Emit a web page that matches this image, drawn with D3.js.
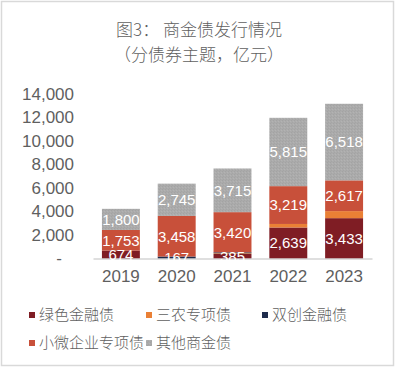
<!DOCTYPE html>
<html>
<head>
<meta charset="utf-8">
<script src="https://cdn.jsdelivr.net/npm/d3@7"></script>
<style>
  body { margin: 0; background: #fff; }
  svg { display: block; }
</style>
</head>
<body>
<svg id="chart" width="396" height="368"></svg>
<script>
// data (亿元)
var years = ["2019", "2020", "2021", "2022", "2023"];
var seriesNames = ["绿色金融债", "三农专项债", "双创金融债", "小微企业专项债", "其他商金债"];
var green = [674, 0, 385, 2639, 3433];
var sannong = [0, 0, 60, 300, 600];
var shuangchuang = [0, 167, 80, 0, 0];
var xiaowei = [1753, 3458, 3420, 3219, 2617];
var other = [1800, 2745, 3715, 5815, 6518];
var yTicks = [0, 2000, 4000, 6000, 8000, 10000, 12000, 14000];
var colors = ["#7f1d24", "#ea8035", "#1f2c4c", "#c8503a", "url(#grain)"];

var rows = years.map(function(y, i) {
  return { year: y, s0: green[i], s1: sannong[i], s2: shuangchuang[i], s3: xiaowei[i], s4: other[i] };
});
var keys = ["s0", "s1", "s2", "s3", "s4"];

var svg = d3.select("#chart");
var txt = "#5f5f5f";
var cjk = "'Noto Sans CJK SC', 'Noto Sans', sans-serif";
var lat = "'Liberation Sans', Arial, sans-serif";

// fine grey texture of the "other" bars
var pat = svg.append("defs").append("pattern").attr("id", "grain")
  .attr("width", 3).attr("height", 3).attr("patternUnits", "userSpaceOnUse");
pat.append("rect").attr("width", 3).attr("height", 3).attr("fill", "#ababab");
pat.append("rect").attr("x", 0).attr("y", 0).attr("width", 1).attr("height", 1).attr("fill", "#a3a3a3");
pat.append("rect").attr("x", 2).attr("y", 1).attr("width", 1).attr("height", 1).attr("fill", "#b3b3b3");
pat.append("rect").attr("x", 1).attr("y", 2).attr("width", 1).attr("height", 1).attr("fill", "#a5a5a5");

svg.append("rect").attr("x", 1.5).attr("y", 1.5).attr("width", 392).attr("height", 364)
  .attr("fill", "#fff").attr("stroke", "#d9d9d9").attr("stroke-width", 1.5);

// title
var title = svg.append("g").attr("font-family", cjk).attr("font-weight", 300).attr("font-size", 17)
  .attr("fill", txt).attr("text-anchor", "middle");
title.append("text").attr("x", 199).attr("y", 36).text("图3：  商金债发行情况");
title.append("text").attr("x", 199).attr("y", 61).text("（分债券主题，亿元）");

var x = d3.scaleBand().domain(years).range([93, 372]).paddingInner(0.32).paddingOuter(0.16);
var y = d3.scaleLinear().domain([0, 14000]).range([258.5, 94]);

var stacked = d3.stack().keys(keys)(rows);

var layers = svg.append("g").selectAll("g").data(stacked).enter().append("g")
  .attr("fill", function(d, i) { return colors[i]; });
layers.selectAll("rect").data(function(d) { return d; }).enter().append("rect")
  .attr("x", function(d) { return x(d.data.year); })
  .attr("width", x.bandwidth())
  .attr("y", function(d) { return y(d[1]); })
  .attr("height", function(d) { return y(d[0]) - y(d[1]); });

// x axis
var xAxis = svg.append("g").attr("transform", "translate(0,258.5)")
  .call(d3.axisBottom(x).tickSize(0).tickPadding(11));
xAxis.select(".domain").attr("stroke", "#bfbfbf").attr("stroke-width", 1.2);
xAxis.selectAll("text").attr("font-family", lat).attr("font-size", 17).attr("fill", txt);

// y axis
var fmt = d3.format(",");
var yAxis = svg.append("g").attr("transform", "translate(74,0)")
  .call(d3.axisLeft(y).tickValues(yTicks).tickSize(0).tickPadding(0)
    .tickFormat(function(d) { return d === 0 ? "-" : fmt(d); }));
yAxis.select(".domain").remove();
yAxis.selectAll("text").attr("font-family", lat).attr("font-size", 17).attr("fill", txt)
  .attr("dx", function(d) { return d === 0 ? -12 : 0; });

// value labels
var showLabel = function(k, v) {
  if (k === "s1") return false;
  if (k === "s2") return v > 150;
  return v > 0;
};
var lbl = svg.append("g").attr("font-family", "'Liberation Sans Narrow', " + lat)
  .attr("font-size", 15).attr("fill", "#fff").attr("text-anchor", "middle");
stacked.forEach(function(layer) {
  layer.forEach(function(d) {
    var v = d[1] - d[0];
    if (!showLabel(layer.key, v)) return;
    lbl.append("text")
      .attr("x", x(d.data.year) + x.bandwidth() / 2)
      .attr("y", (y(d[0]) + y(d[1])) / 2)
      .attr("dy", "0.36em")
      .text(fmt(v));
  });
});

// legend
var legendPos = [[29, 315], [146, 315], [262, 315], [29, 343], [146, 343]];
var lg = svg.append("g").attr("font-family", cjk).attr("font-weight", 300).attr("font-size", 15).attr("fill", txt);
seriesNames.forEach(function(name, i) {
  var p = legendPos[i];
  lg.append("rect").attr("x", p[0]).attr("y", p[1] - 3).attr("width", 6).attr("height", 6)
    .attr("fill", colors[i]);
  lg.append("text").attr("x", p[0] + 10).attr("y", p[1]).attr("dy", "0.35em").text(name);
});
</script>
</body>
</html>
